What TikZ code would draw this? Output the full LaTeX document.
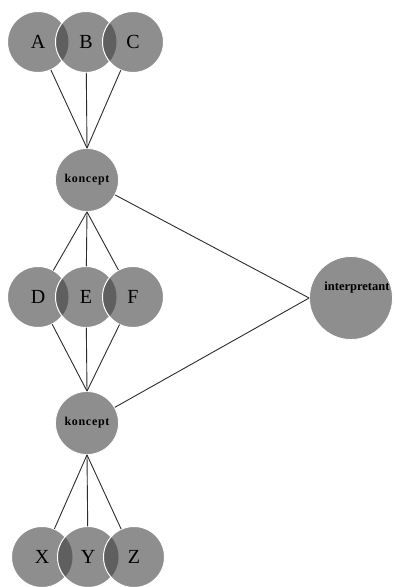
\documentclass[tikz,border=0pt]{standalone}
\usepackage{fontspec}
\setmainfont{Liberation Serif}
\definecolor{cfill}{RGB}{142,142,142}
\definecolor{cover}{RGB}{95,95,95}
\definecolor{cline}{RGB}{45,45,45}
% #1,#2,#3 x centres, #4 y centre, #5 radius (pt)
\newcommand\mytrio[5]{%
  \fill[cfill] (#1,#4) circle (#5pt);
  \draw[white,line width=1pt] (#1,#4) circle (#5pt);
  \fill[cfill] (#2,#4) circle (#5pt);
  \begin{scope}\clip (#1,#4) circle (#5pt); \fill[cover] (#2,#4) circle (#5pt);\end{scope}
  \draw[white,line width=1pt] (#2,#4) circle (#5pt);
  \fill[cfill] (#3,#4) circle (#5pt);
  \begin{scope}\clip (#2,#4) circle (#5pt); \fill[cover] (#3,#4) circle (#5pt);\end{scope}
  \draw[white,line width=1pt] (#3,#4) circle (#5pt);
}
\begin{document}
\begin{tikzpicture}[x=1pt,y=-1pt,
  letter/.style={circle,minimum size=61pt,inner sep=0pt,font=\fontsize{20}{20}\selectfont},
  konc/.style={circle,fill=cfill,draw=white,line width=0.8pt,minimum size=63pt,inner sep=0pt,font=\bfseries\fontsize{12}{12}\selectfont\addfontfeatures{LetterSpace=6}},
  link/.style={cline,line width=0.9pt}]
\useasboundingbox (0,0) rectangle (395,587);
\fill[white] (0,0) rectangle (395,587);
% top trio
\mytrio{38}{86}{133}{42}{30.5}
\node[letter] (A) at (38,42) {A};
\node[letter] (B) at (86,42) {B};
\node[letter] (C) at (133,42) {C};
% middle trio
\mytrio{38}{86}{133}{297}{30.5}
\node[letter] (D) at (38,297) {D};
\node[letter] (E) at (86,297) {E};
\node[letter] (F) at (133,297) {F};
% bottom trio
\mytrio{42}{88}{134}{557}{30.5}
\node[letter] (X) at (42,557) {X};
\node[letter] (Y) at (88,557) {Y};
\node[letter] (Z) at (134,557) {Z};
% koncepts
\node[konc] (K1) at (87,180) {koncept};
\node[konc] (K2) at (87,423) {koncept};
% interpretant
\node[circle,fill=cfill,draw=white,line width=0.8pt,minimum size=83pt,inner sep=0pt] (I) at (351,298) {};
\node[font=\bfseries\fontsize{12.5}{12.5}\selectfont,inner sep=0pt] (Ilab) at (357,287) {interpretant};
% connectors
\draw[link] (A) -- (K1.north);
\draw[link] (B) -- (K1.north);
\draw[link] (C) -- (K1.north);
\draw[link] (K1.south) -- (D);
\draw[link] (K1.south) -- (E);
\draw[link] (K1.south) -- (F);
\draw[link] (D) -- (K2.north);
\draw[link] (E) -- (K2.north);
\draw[link] (F) -- (K2.north);
\draw[link] (K2.south) -- (X);
\draw[link] (K2.south) -- (Y);
\draw[link] (K2.south) -- (Z);
\draw[link] (K1) -- (I.west);
\draw[link] (K2) -- (I.west);
\end{tikzpicture}
\end{document}
